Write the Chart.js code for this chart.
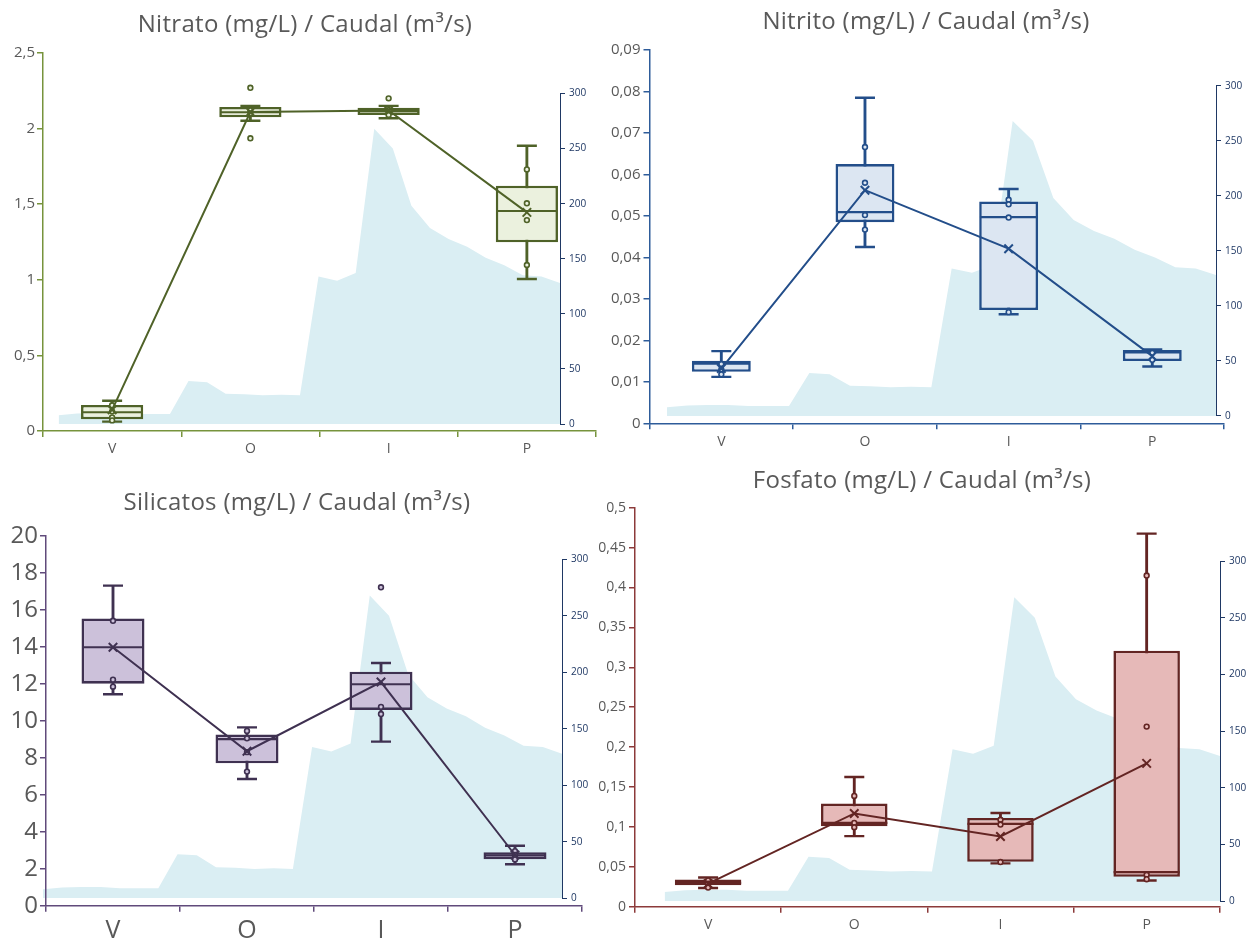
<!DOCTYPE html>
<html><head><meta charset="utf-8">
<script src="https://cdn.jsdelivr.net/npm/chart.js@4.4.1/dist/chart.umd.min.js"></script>
<style>
html,body{margin:0;padding:0;background:#fff;width:1255px;height:942px;overflow:hidden;position:relative;}
canvas{position:absolute;left:0;top:0;}
.title{position:absolute;font-family:'Open Sans',sans-serif;color:#595959;font-size:24px;letter-spacing:0.3px;white-space:nowrap;transform:translate(-50%,-50%);z-index:10;}
</style></head><body>
<div class="title" style="left:305px;top:22px">Nitrato (mg/L) / Caudal (m³/s)</div>
<div class="title" style="left:926px;top:19px">Nitrito (mg/L) / Caudal (m³/s)</div>
<div class="title" style="left:297px;top:500px">Silicatos (mg/L) / Caudal (m³/s)</div>
<div class="title" style="left:922px;top:478px">Fosfato (mg/L) / Caudal (m³/s)</div>
<canvas id="a1" width="1255" height="942"></canvas>
<canvas id="a2" width="1255" height="942"></canvas>
<canvas id="a3" width="1255" height="942"></canvas>
<canvas id="a4" width="1255" height="942"></canvas>
<canvas id="b1" width="1255" height="942"></canvas>
<canvas id="b2" width="1255" height="942"></canvas>
<canvas id="b3" width="1255" height="942"></canvas>
<canvas id="b4" width="1255" height="942"></canvas>
<script>
// ---------- DATA ----------
const categories = ['V', 'O', 'I', 'P'];
const caudal = [8, 9.5, 10, 10, 9, 9, 9, 39, 38, 27.5, 27, 26, 26.5, 26, 134, 130, 137, 268, 250, 198, 178, 168, 161, 151, 144, 135, 134, 128];
const caudalMax = 300;
const caudalStep = 50;

const nitratoMin    = [0.062, 2.052, 2.068, 1.005];
const nitratoQ1     = [0.077, 2.075, 2.090, 1.248];
const nitratoMedian = [0.124, 2.108, 2.116, 1.455];
const nitratoQ3     = [0.172, 2.143, 2.138, 1.622];
const nitratoMax    = [0.200, 2.150, 2.150, 1.887];
const nitratoMean   = [0.140, 2.110, 2.120, 1.446];
const nitratoPoints = [[0.17, 0.13, 0.09, 0.07], [2.27, 2.12, 2.10, 1.936], [2.20, 2.12, 2.09], [1.73, 1.506, 1.395, 1.098]];
const nitratoAxisMax = 2.5, nitratoAxisStep = 0.5;

const nitritoMin    = [0.0112, 0.0425, 0.0263, 0.0137];
const nitritoQ1     = [0.0124, 0.0485, 0.0273, 0.0150];
const nitritoMedian = [0.0144, 0.0509, 0.0497, 0.0171];
const nitritoQ3     = [0.0151, 0.0625, 0.0535, 0.0177];
const nitritoMax    = [0.0174, 0.0785, 0.0565, 0.0178];
const nitritoMean   = [0.0132, 0.0562, 0.0421, 0.0162];
const nitritoPoints = [[0.0143, 0.0130, 0.0118], [0.0666, 0.0580, 0.0502, 0.0467], [0.0539, 0.0528, 0.0496, 0.0268], [0.0170, 0.0153]];
const nitritoAxisMax = 0.09, nitritoAxisStep = 0.01;

const silicatosMin    = [11.43, 6.85, 8.87, 2.24];
const silicatosQ1     = [12.00, 7.70, 10.58, 2.51];
const silicatosMedian = [13.97, 9.00, 11.97, 2.72];
const silicatosQ3     = [15.53, 9.26, 12.65, 2.89];
const silicatosMax    = [17.30, 9.64, 13.12, 3.24];
const silicatosMean   = [13.97, 8.35, 12.09, 2.74];
const silicatosPoints = [[15.4, 12.22, 11.84], [9.45, 9.05, 8.3, 7.25], [17.21, 10.75, 10.36], [2.95, 2.75, 2.6, 2.5]];
const silicatosAxisMax = 20, silicatosAxisStep = 2;

const fosfatoMin    = [0.0235, 0.0885, 0.0544, 0.0329];
const fosfatoQ1     = [0.0270, 0.1009, 0.0564, 0.0375];
const fosfatoMedian = [0.0300, 0.1050, 0.1038, 0.0435];
const fosfatoQ3     = [0.0340, 0.1293, 0.1112, 0.3208];
const fosfatoMax    = [0.0366, 0.1625, 0.1174, 0.4675];
const fosfatoMean   = [0.0290, 0.1169, 0.0881, 0.1796];
const fosfatoPoints = [[0.033, 0.029, 0.024], [0.1388, 0.105, 0.0996], [0.109, 0.103, 0.056], [0.415, 0.2257, 0.040, 0.0345]];
const fosfatoAxisMax = 0.5, fosfatoAxisStep = 0.05;

// ---------- STYLE / LAYOUT ----------
const W = 1255, H = 942;
const AREA = '#DAEEF3';
const NAVY = '#1F3864';
const GRAY = '#595959';
const FONT = "'Open Sans', sans-serif";
Chart.defaults.font.family = FONT;

const fmt = v => (Math.round(v * 1000) / 1000).toString().replace('.', ',');

function areaChart(id, g) {
  new Chart(document.getElementById(id), {
    type: 'line',
    data: { datasets: [{
      data: caudal.map((v, i) => ({ x: i, y: v })),
      fill: 'origin', backgroundColor: AREA, borderWidth: 0, borderColor: 'rgba(0,0,0,0)',
      pointRadius: 0, tension: 0
    }] },
    options: {
      responsive: false, animation: false, devicePixelRatio: 1,
      layout: { padding: { left: g.AL, right: W - g.AR - 40, top: g.AT, bottom: H - g.AB } },
      plugins: { legend: { display: false }, tooltip: { enabled: false } },
      scales: {
        x: { type: 'linear', min: 0, max: caudal.length - 1, display: false },
        y: {
          position: 'right', min: 0, max: caudalMax,
          ticks: { stepSize: caudalStep, color: NAVY, font: { size: 10 }, padding: 4 },
          grid: { drawOnChartArea: false, tickLength: 5, color: NAVY, lineWidth: 1 },
          border: { color: NAVY, width: 1 },
          afterFit(s) { s.width = 40; }
        }
      }
    }
  });
}

function boxChart(id, g, d, st) {
  const catW = (g.R - g.L) / categories.length;
  const whisker = categories.map((c, i) => [d.min[i], d.max[i]]);
  const boxes = categories.map((c, i) => [d.q1[i], d.q3[i]]);
  const caps = [];
  categories.forEach((c, i) => { caps.push({ x: c, y: d.min[i] }); caps.push({ x: c, y: d.max[i] }); });
  const medians = categories.map((c, i) => ({ x: c, y: d.median[i] }));
  const pts = [];
  d.points.forEach((arr, i) => arr.forEach(v => pts.push({ x: categories[i], y: v })));
  const XH = 40;
  new Chart(document.getElementById(id), {
    type: 'bar',
    data: { labels: categories, datasets: [
      { type: 'bar', data: whisker, backgroundColor: st.stroke, barThickness: 2.2, grouped: false, order: 6 },
      { type: 'bar', data: boxes, backgroundColor: st.fill, borderColor: st.stroke, borderWidth: 2.6,
        borderSkipped: false, barPercentage: g.bp, categoryPercentage: 1, grouped: false, order: 5 },
      { type: 'line', data: caps, showLine: false, pointStyle: 'line', pointRadius: 10,
        pointBorderColor: st.stroke, borderColor: st.stroke, pointBorderWidth: 2.4, order: 4 },
      { type: 'line', data: medians, showLine: false, pointStyle: 'line', pointRadius: g.bp * catW / 2 - 1.5,
        pointBorderColor: st.stroke, borderColor: st.stroke, pointBorderWidth: 2.2, order: 3 },
      { type: 'line', data: pts, showLine: false, pointStyle: 'circle', pointRadius: 2.4,
        pointBackgroundColor: st.fill, pointBorderColor: st.stroke, borderColor: st.stroke, pointBorderWidth: 1.6, order: 2 },
      { type: 'line', data: d.mean, borderColor: st.stroke, borderWidth: 2, pointStyle: 'crossRot', pointRadius: 6,
        pointBorderColor: st.stroke, pointBorderWidth: 2, tension: 0, order: 1 }
    ] },
    options: {
      responsive: false, animation: false, devicePixelRatio: 1,
      layout: { padding: { left: g.L - g.yw, right: W - g.R, top: g.T, bottom: H - g.B - XH } },
      plugins: { legend: { display: false }, tooltip: { enabled: false } },
      scales: {
        x: {
          type: 'category', offset: true,
          grid: { offset: true, drawOnChartArea: false, tickLength: 6, color: st.axis, lineWidth: 1.5 },
          border: { color: st.axis, width: 1.5 },
          ticks: { color: GRAY, font: { size: g.xfs }, padding: g.xpad, maxRotation: 0 },
          afterFit(s) { s.height = XH; }
        },
        y: {
          min: 0, max: g.max,
          ticks: { stepSize: g.step, color: GRAY, font: { size: g.yfs }, padding: g.ypad, callback: fmt },
          grid: { drawOnChartArea: false, tickLength: 6, color: st.axis, lineWidth: 1.5 },
          border: { color: st.axis, width: 1.5 },
          afterFit(s) { s.width = g.yw; }
        }
      }
    }
  });
}

// Panel 1 - Nitrato
areaChart('a1', { AL: 58.5, AR: 560, AT: 93.5, AB: 424 });
boxChart('b1', { L: 43, R: 596, T: 53, B: 431, yw: 43, bp: 0.45, max: nitratoAxisMax, step: nitratoAxisStep, yfs: 15, xfs: 14, xpad: 4, ypad: 2 },
  { min: nitratoMin, q1: nitratoQ1, median: nitratoMedian, q3: nitratoQ3, max: nitratoMax, mean: nitratoMean, points: nitratoPoints },
  { stroke: '#4F6228', fill: '#EBF1DE', axis: '#77933C' });

// Panel 2 - Nitrito
areaChart('a2', { AL: 667, AR: 1216, AT: 85.7, AB: 416 });
boxChart('b2', { L: 649.5, R: 1238.5, T: 50, B: 423.3, yw: 60, bp: 0.41, max: nitritoAxisMax, step: nitritoAxisStep, yfs: 15, xfs: 14, xpad: 4, ypad: 3 },
  { min: nitritoMin, q1: nitritoQ1, median: nitritoMedian, q3: nitritoQ3, max: nitritoMax, mean: nitritoMean, points: nitritoPoints },
  { stroke: '#234E8A', fill: '#DCE6F2', axis: '#2E5C9A' });

// Panel 3 - Silicatos
areaChart('a3', { AL: 43, AR: 562, AT: 559.3, AB: 898.3 });
boxChart('b3', { L: 46, R: 582, T: 535.7, B: 905.7, yw: 46, bp: 0.47, max: silicatosAxisMax, step: silicatosAxisStep, yfs: 24, xfs: 25, xpad: 4, ypad: 2 },
  { min: silicatosMin, q1: silicatosQ1, median: silicatosMedian, q3: silicatosQ3, max: silicatosMax, mean: silicatosMean, points: silicatosPoints },
  { stroke: '#3F3151', fill: '#CCC1DA', axis: '#604A7B' });

// Panel 4 - Fosfato
areaChart('a4', { AL: 664.5, AR: 1220, AT: 561, AB: 901 });
boxChart('b4', { L: 635, R: 1242.5, T: 507.7, B: 912.3, yw: 60, bp: 0.455, max: fosfatoAxisMax, step: fosfatoAxisStep, yfs: 14, xfs: 14, xpad: 4, ypad: 3 },
  { min: fosfatoMin, q1: fosfatoQ1, median: fosfatoMedian, q3: fosfatoQ3, max: fosfatoMax, mean: fosfatoMean, points: fosfatoPoints },
  { stroke: '#632523', fill: '#E6B9B8', axis: '#8C3A3A' });
</script>
</body></html>
